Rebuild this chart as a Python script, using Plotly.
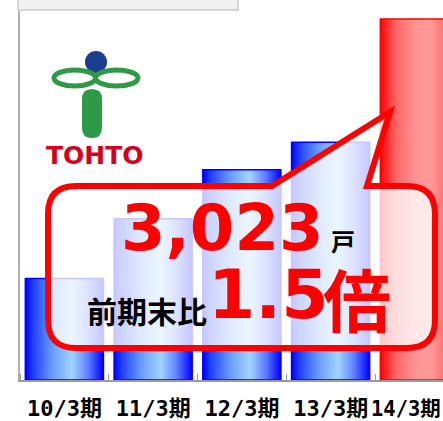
import plotly.graph_objects as go

# ---------------- data ----------------
categories = ["10/3期", "11/3期", "12/3期", "13/3期", "14/3期"]
units = [850, 1350, 1760, 1990, 3023]
is_current = [False, False, False, False, True]
headline_value = "3,023"
headline_unit = "戸"
ratio_label = "前期末比"
ratio_value = "1.5"
ratio_unit = "倍"
logo_text = "TOHTO"
title_text = "管理戸数の推移"

# ---------------- geometry helpers ----------------
W, H = 443, 421
ML, MR, MT, MB = 20, 0, 10, 41
PW = W - ML - MR
PH = H - MT - MB


def px(x):
    return (x - ML) / PW


def py(y):
    return (MT + PH - y) / PH


def path(points_cmds):
    out = []
    for cmd, pts in points_cmds:
        s = cmd
        s += " ".join(f"{px(a):.5f},{py(b):.5f}" for a, b in pts)
        out.append(s)
    return " ".join(out) + " Z"


BAR_W = 0.88
blue_scale = [[0, "#0000ff"], [0.1, "#2040ff"], [0.35, "#6a9cff"],
              [0.6, "#a2d4ff"], [0.8, "#6080ff"], [1, "#0000ff"]]
red_scale = [[0, "#ff0000"], [0.2, "#ff6666"], [0.45, "#ff9494"],
             [0.65, "#ff9a9a"], [0.85, "#ff6868"], [1, "#ff2020"]]

fig = go.Figure()
xs = list(range(len(categories)))
fig.add_trace(go.Bar(
    x=xs, y=units, width=BAR_W,
    marker=dict(color=["#ff8080" if c else "#6a9cff" for c in is_current],
                line=dict(width=0)),
    showlegend=False, hoverinfo="skip"))

for i, v in enumerate(units):
    x0, x1 = i - BAR_W / 2, i + BAR_W / 2
    fig.add_trace(go.Scatter(
        x=[x0, x0, x1, x1, x0], y=[0, v, v, 0, 0],
        fill="toself", mode="lines",
        line=dict(color="#ff0000" if is_current[i] else "#0000ff", width=1.5),
        fillgradient=dict(type="horizontal",
                          colorscale=red_scale if is_current[i] else blue_scale),
        showlegend=False, hoverinfo="skip"))

shapes = []
# top (cut) title box
shapes.append(dict(type="rect", xref="paper", yref="paper",
                   x0=px(18), x1=px(238), y0=py(10), y1=py(-6),
                   fillcolor="#f0f0f0", line=dict(color="#d6d6d6", width=2),
                   layer="above"))

# logo
shapes.append(dict(type="circle", xref="paper", yref="paper",
                   x0=px(85), x1=px(107), y0=py(73), y1=py(51),
                   fillcolor="#1b3d8f", line=dict(width=0)))
shapes.append(dict(type="circle", xref="paper", yref="paper",
                   x0=px(54), x1=px(95.5), y0=py(86), y1=py(70),
                   fillcolor="rgba(0,0,0,0)", line=dict(color="#2e9a48", width=5)))
shapes.append(dict(type="circle", xref="paper", yref="paper",
                   x0=px(95.5), x1=px(138), y0=py(86), y1=py(70),
                   fillcolor="rgba(0,0,0,0)", line=dict(color="#2e9a48", width=5)))
pl, pr, pt, pb, pr_ = 82, 102, 89, 138, 10
shapes.append(dict(type="path", xref="paper", yref="paper",
                   path=path([
                       ("M", [(pl, pt + pr_)]),
                       ("Q", [(pl, pt), ((pl + pr) / 2, pt)]),
                       ("Q", [(pr, pt), (pr, pt + pr_)]),
                       ("L", [(pr, pb - pr_)]),
                       ("Q", [(pr, pb), ((pl + pr) / 2, pb)]),
                       ("Q", [(pl, pb), (pl, pb - pr_)]),
                   ]),
                   fillcolor="#2e9a48", line=dict(width=0)))

# callout balloon
L, R, T, B, r = 48, 435, 186, 348, 28
shapes.append(dict(type="path", xref="paper", yref="paper",
                   path=path([
                       ("M", [(L + r, T)]),
                       ("L", [(272, T)]),
                       ("L", [(390, 112)]),
                       ("L", [(367, T)]),
                       ("L", [(R - r, T)]),
                       ("Q", [(R, T), (R, T + r)]),
                       ("L", [(R, B - r)]),
                       ("Q", [(R, B), (R - r, B)]),
                       ("L", [(L + r, B)]),
                       ("Q", [(L, B), (L, B - r)]),
                       ("L", [(L, T + r)]),
                       ("Q", [(L, T), (L + r, T)]),
                   ]),
                   fillcolor="rgba(255,255,255,0.78)",
                   line=dict(color="#ff0000", width=6)))

BOLD_SANS = "DejaVu Sans, Noto Sans CJK JP"
CJK = "Noto Sans CJK JP"
TICK_FAMILY = "DejaVu Sans Mono, Noto Sans CJK JP"
TICK_FONT = dict(size=22, color="black", family=TICK_FAMILY, weight="bold")
annotations = [
    dict(text=title_text, x=px(128), y=py(-11), font=dict(size=18, color="black", family=CJK, weight="bold")),
    dict(text=logo_text, x=px(95), y=py(155), font=dict(size=25, color="#d6001c", family="DejaVu Sans", weight="bold")),
    dict(text=headline_value, x=px(222), y=py(228), font=dict(size=64, color="#ff0000", family=BOLD_SANS, weight="bold")),
    dict(text=headline_unit, x=px(343), y=py(240), font=dict(size=24, color="black", family=CJK, weight="bold")),
    dict(text=ratio_label, x=px(147), y=py(310), font=dict(size=30, color="black", family=CJK, weight="bold")),
    dict(text=ratio_value, x=px(268), y=py(294), font=dict(size=68, color="#ff0000", family=BOLD_SANS, weight="bold")),
    dict(text=ratio_unit, x=px(357), y=py(297), font=dict(size=68, color="#ff0000", family=CJK, weight="bold")),
]
for a in annotations:
    a.update(xanchor="center")
# label of the last (edge-clipped) category, kept inside the page
annotations.append(dict(text=categories[-1], x=1.0, y=py(409), xanchor="right",
                        font=dict(size=20.5, color="black", family=TICK_FAMILY, weight="bold")))
for a in annotations:
    a.update(xref="paper", yref="paper", showarrow=False, yanchor="middle")

fig.update_layout(
    width=W, height=H,
    margin=dict(l=ML, r=MR, t=MT, b=MB, pad=0),
    paper_bgcolor="white", plot_bgcolor="white",
    showlegend=False, barmode="overlay",
    shapes=shapes, annotations=annotations,
    xaxis=dict(range=[-0.5, -0.5 + PW / 88.75], tickmode="array",
               tickvals=xs[:-1], ticktext=categories[:-1], ticks="",
               showgrid=False, zeroline=False, showline=True,
               linecolor="#9a9a9a", linewidth=1.5,
               tickfont=TICK_FONT,
               ticklabelstandoff=8,
               minor=dict(tickvals=[i - 0.5 for i in range(len(categories) + 1)],
                          ticks="inside", ticklen=6, tickcolor="#9a9a9a", tickwidth=1),
               fixedrange=True),
    yaxis=dict(range=[0, 3023 * PH / 361], showticklabels=False, ticks="",
               showgrid=False, zeroline=False, showline=True,
               linecolor="#b0b0b0", linewidth=1.5, fixedrange=True),
)

js = (
    "document.documentElement.style.overflow='hidden';"
    "document.body.style.margin='0';"
    "document.body.style.overflow='hidden';"
)
fig.write_html("out.html", config={"displayModeBar": False}, post_script=js)
